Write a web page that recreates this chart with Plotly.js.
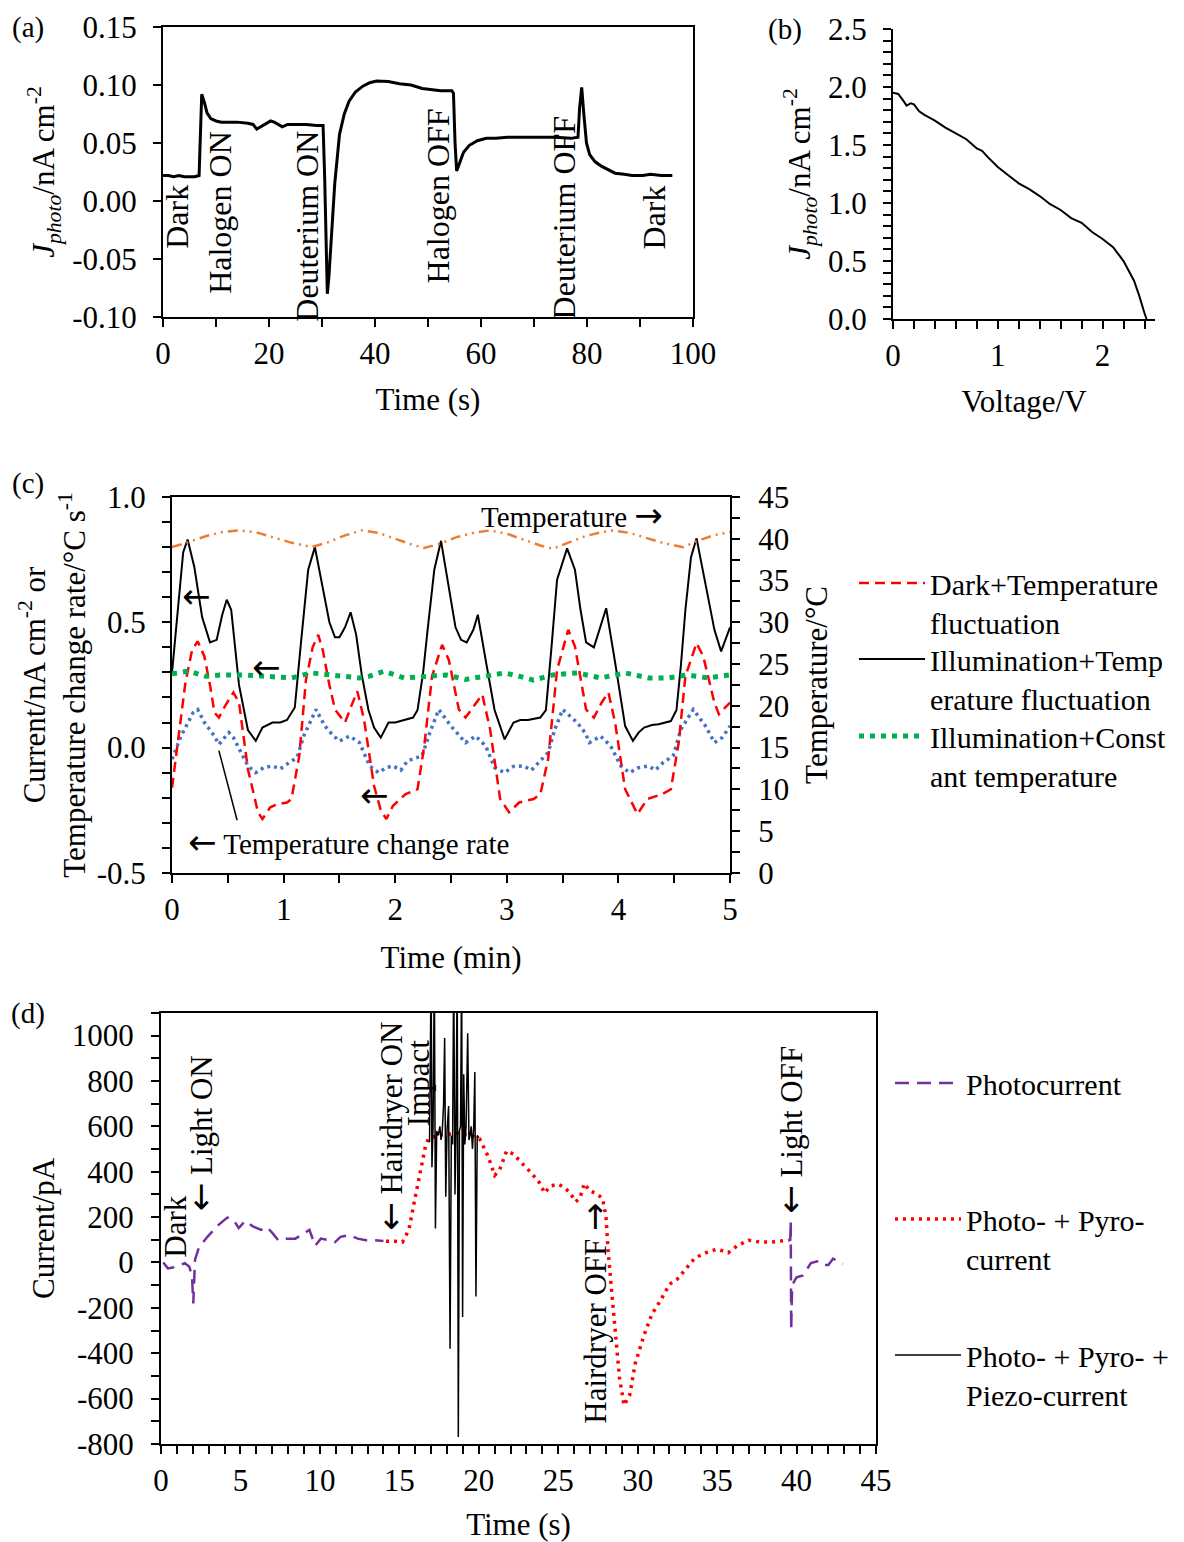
<!DOCTYPE html>
<html><head><meta charset="utf-8">
<script src="https://cdn.plot.ly/plotly-3.0.1.min.js"></script>
<style>body{margin:0;background:#fff}#chart{width:1184px;height:1542px}</style>
</head><body><div id="chart"></div>
<script>
// ---------- Panel (a): photocurrent vs time ----------
const timeA = [0,1,2,3,4,5,6,6.8,7.0,7.3,7.8,8.3,9.0,10,11,12,14,16,17,17.7,18.5,19.5,20.3,21,22,22.5,23.5,25,27,29,30.2,30.5,30.8,31.0,31.3,31.8,32.4,33.3,34.2,35.1,36.3,37.7,39,40.3,42.5,44.6,46.8,48.9,50.6,52.4,54.5,54.8,55.1,55.4,55.9,56.7,57.8,59.3,61,62.8,65,68,71,74,77,78.3,78.6,79.0,79.4,79.9,80.5,81.5,82.7,84,85.3,87,88.5,90.5,92,94,96.1];
const jA = [0.022,0.022,0.021,0.022,0.021,0.021,0.021,0.022,0.045,0.092,0.085,0.076,0.071,0.069,0.068,0.068,0.068,0.067,0.066,0.062,0.064,0.067,0.069,0.068,0.065,0.064,0.066,0.066,0.066,0.065,0.065,0.02,-0.05,-0.080,-0.065,-0.025,0.015,0.0575,0.075,0.086,0.094,0.099,0.102,0.1034,0.103,0.101,0.100,0.097,0.096,0.095,0.095,0.093,0.05,0.026,0.032,0.042,0.048,0.052,0.054,0.054,0.055,0.055,0.055,0.055,0.054,0.055,0.080,0.098,0.075,0.050,0.040,0.034,0.030,0.027,0.024,0.023,0.022,0.022,0.023,0.022,0.022];
const tickValsA = [-0.10,-0.05,0,0.05,0.10,0.15];
const tickTextA = ['-0.10','-0.05','0.00','0.05','0.10','0.15'];
const eventsA = ['Dark','Halogen ON','Deuterium ON','Halogen OFF','Deuterium OFF','Dark'];
const eventTimeA = [2.6,10.6,27.1,51.9,75.6,92.6];
const eventYA = [-0.0138,-0.010,-0.0216,0.004,-0.0144,-0.0144];

// ---------- Panel (b): J-V ----------
const voltB = [0,0.05,0.1,0.13,0.17,0.2,0.25,0.3,0.4,0.5,0.6,0.7,0.8,0.85,0.9,1.0,1.1,1.2,1.3,1.4,1.5,1.6,1.7,1.8,1.9,2.0,2.1,2.2,2.3,2.35,2.4,2.42];
const jB = [1.95,1.94,1.88,1.84,1.86,1.85,1.79,1.76,1.71,1.65,1.60,1.55,1.47,1.45,1.40,1.31,1.24,1.17,1.12,1.06,0.99,0.94,0.87,0.83,0.75,0.69,0.62,0.50,0.33,0.20,0.05,0.0];

// ---------- Panel (c): temperature fluctuation ----------
const timeRed = [0,0.06,0.12,0.18,0.23,0.29,0.34,0.38,0.42,0.48,0.55,0.6,0.68,0.77,0.81,0.88,0.95,1.03,1.07,1.14,1.2,1.26,1.31,1.35,1.41,1.46,1.55,1.61,1.66,1.72,1.81,1.87,1.92,1.98,2.09,2.2,2.26,2.33,2.42,2.48,2.57,2.63,2.71,2.78,2.85,2.94,3.02,3.11,3.24,3.3,3.37,3.45,3.55,3.61,3.71,3.78,3.85,3.91,3.97,4.06,4.17,4.26,4.39,4.47,4.54,4.6,4.70,4.76,4.86,4.9,5.0];
const darkTemp = [-0.16,0.05,0.26,0.39,0.424,0.364,0.25,0.14,0.12,0.17,0.22,0.18,-0.086,-0.258,-0.285,-0.238,-0.225,-0.219,-0.205,-0.033,0.27,0.40,0.45,0.39,0.25,0.152,0.10,0.17,0.225,0.113,-0.152,-0.25,-0.285,-0.232,-0.186,-0.166,0.007,0.285,0.41,0.35,0.152,0.12,0.17,0.212,0.073,-0.205,-0.258,-0.219,-0.205,-0.186,-0.046,0.31,0.47,0.404,0.152,0.12,0.18,0.22,0.10,-0.166,-0.265,-0.205,-0.186,-0.166,0.02,0.285,0.417,0.364,0.179,0.133,0.18];
const timeBlack = [0,0.05,0.1,0.14,0.2,0.27,0.34,0.4,0.45,0.49,0.53,0.6,0.68,0.75,0.81,0.9,0.97,1.03,1.1,1.16,1.22,1.28,1.35,1.41,1.46,1.5,1.55,1.6,1.65,1.7,1.76,1.81,1.87,1.94,2.0,2.07,2.16,2.2,2.25,2.29,2.35,2.41,2.48,2.54,2.59,2.64,2.7,2.74,2.81,2.89,2.98,3.06,3.12,3.19,3.3,3.35,3.4,3.45,3.54,3.61,3.66,3.71,3.78,3.84,3.89,3.97,4.06,4.13,4.18,4.23,4.3,4.36,4.47,4.52,4.56,4.6,4.65,4.70,4.77,4.86,4.92,5.0];
const illumTemp = [0.30,0.55,0.78,0.83,0.72,0.52,0.42,0.43,0.53,0.59,0.55,0.25,0.07,0.027,0.08,0.10,0.10,0.11,0.16,0.44,0.71,0.80,0.64,0.50,0.44,0.44,0.48,0.54,0.45,0.29,0.15,0.08,0.04,0.10,0.10,0.11,0.12,0.15,0.30,0.47,0.71,0.825,0.64,0.48,0.43,0.42,0.47,0.53,0.35,0.15,0.033,0.10,0.11,0.11,0.12,0.15,0.40,0.67,0.795,0.71,0.55,0.42,0.40,0.48,0.556,0.34,0.086,0.027,0.06,0.08,0.09,0.093,0.106,0.15,0.33,0.55,0.76,0.835,0.67,0.47,0.384,0.48];
const timeConst = [0,0.15,0.3,0.45,0.65,0.85,1.07,1.25,1.5,1.68,1.77,1.9,2.08,2.29,2.46,2.63,2.81,2.98,3.11,3.24,3.41,3.63,3.84,4.06,4.27,4.45,4.62,4.8,5.0];
const illumConst = [0.295,0.305,0.285,0.29,0.29,0.285,0.278,0.298,0.285,0.278,0.285,0.305,0.278,0.285,0.29,0.272,0.285,0.298,0.285,0.269,0.29,0.298,0.278,0.298,0.278,0.278,0.29,0.278,0.29];
const timeRate = [0,0.08,0.19,0.23,0.29,0.38,0.42,0.51,0.55,0.62,0.68,0.75,0.82,0.9,0.97,1.03,1.12,1.18,1.29,1.37,1.44,1.5,1.59,1.68,1.77,1.85,1.92,1.98,2.05,2.11,2.24,2.31,2.39,2.5,2.57,2.63,2.72,2.81,2.89,2.98,3.06,3.15,3.22,3.28,3.37,3.43,3.5,3.63,3.7,3.74,3.84,3.93,4.02,4.1,4.18,4.27,4.33,4.4,4.49,4.56,4.67,4.78,4.86,4.93,5.0];
const tempRate = [-0.046,0.046,0.14,0.152,0.10,0.046,0.013,0.06,0.04,-0.02,-0.073,-0.10,-0.08,-0.073,-0.085,-0.066,-0.04,0.046,0.152,0.086,0.05,0.026,0.046,0.02,-0.073,-0.10,-0.08,-0.073,-0.09,-0.053,-0.033,0.06,0.152,0.086,0.05,0.02,0.046,0.007,-0.08,-0.10,-0.075,-0.073,-0.09,-0.06,-0.02,0.073,0.152,0.10,0.06,0.02,0.046,0.007,-0.073,-0.10,-0.08,-0.073,-0.09,-0.06,-0.033,0.073,0.152,0.086,0.02,0.04,0.086];
const timeTemp = [0,0.15,0.3,0.45,0.6,0.75,0.9,1.05,1.25,1.4,1.55,1.7,1.85,2.0,2.15,2.26,2.4,2.55,2.7,2.85,3.0,3.15,3.3,3.41,3.55,3.7,3.85,3.95,4.1,4.25,4.4,4.58,4.7,4.85,5.0];
const temperature = [39.0,39.6,40.3,40.8,41.0,40.8,40.2,39.6,39.0,39.6,40.4,41.0,40.7,40.0,39.3,38.9,39.4,40.2,40.7,41.0,40.6,39.9,39.2,38.8,39.5,40.3,40.8,41.0,40.7,40.1,39.5,39.0,39.7,40.4,40.8];
const tickValsC = [-0.5,0,0.5,1.0];
const tickTextC = ['-0.5','0.0','0.5','1.0'];
const namesC = ['Dark+Temperature<br>fluctuation','Illumination+Temp<br>erature fluctuation','Illumination+Const<br>ant temperature'];

// ---------- Panel (d): hairdryer experiment ----------
const timePhoto = [0.14,0.43,0.96,1.5,1.78,1.95,2.03,2.1,2.14,2.39,2.92,3.64,4.17,4.53,4.89,5.3,5.78,6.3,6.67,7.03,7.38,7.92,8.45,8.99,9.34,9.7,10.06,10.6,10.95,11.3,11.84,12.38,12.9,13.45,14.0,null,39.5,39.6,39.63,39.66,39.72,40.0,40.4,40.9,41.3,41.6,42.0,42.3,42.9];
const photo = [0,-26,-19,-3,-19,-60,-181,-60,12,67,113,167,198,190,152,183,159,144,156,128,98,105,105,128,144,74,105,98,90,113,121,105,98,98,95,null,98,100,183,-297,-100,-65,-57,-3,5,-11,-11,17,-8];
const timePyro = [14.16,14.7,15.2,15.6,15.94,16.3,16.65,16.85,17.5,18.5,19.5,20.04,20.58,21.0,21.3,21.75,22.2,22.7,23.25,23.8,24.14,24.5,25.0,25.4,25.75,26.1,26.36,26.64,27.0,27.35,27.78,28.0,28.14,28.35,28.6,28.85,29.14,29.5,29.85,30.4,30.9,31.45,32.0,32.5,33.06,33.6,34.3,35.0,35.7,36.27,36.98,37.7,38.4,39.5];
const pyro = [94,94,90,144,268,392,515,548,560,570,560,546,469,384,407,492,477,438,399,353,306,337,345,330,306,268,283,348,314,306,283,206,51,-119,-305,-506,-630,-584,-444,-320,-227,-166,-96,-73,-26,20,43,59,43,74,98,90,90,98];
const timePiezo = [16.9,17.0,17.05,17.12,17.2,17.27,17.35,17.45,17.55,17.62,17.7,17.78,17.85,17.92,18.0,18.1,18.19,18.27,18.35,18.42,18.5,18.56,18.64,18.71,18.78,18.85,18.92,18.98,19.05,19.12,19.2,19.3,19.38,19.45,19.52,19.6,19.68,19.75,19.82,19.9,20.0];
const piezo = [530,1300,420,600,1300,150,580,560,600,540,580,690,990,290,580,690,-380,560,520,1300,300,560,1300,-770,580,600,1300,-240,830,520,600,1010,540,560,600,500,600,840,-150,560,550];
const tickValsD = [-800,-600,-400,-200,0,200,400,600,800,1000];
const tickTextD = ['-800','-600','-400','-200','0','200','400','600','800','1000'];
const AL = '<span style="font-family:DejaVu Sans;font-size:34px">\u2190</span>';
const AR = '<span style="font-family:DejaVu Sans;font-size:34px">\u2192</span>';
const eventsD = ['Dark', AL+' Light ON', AL+' Hairdryer ON', 'Impact', 'Hairdryer OFF '+AR, AL+' Light OFF'];
const eventTimeD = [0.95,2.46,14.44,16.19,27.28,39.59];
const eventYD = [158,570,600,791,-224,585];
const namesD = ['Photocurrent','Photo- + Pyro-<br>current','Photo- + Pyro- +<br>Piezo-current'];

const FONT = 'Liberation Serif, Times New Roman, serif';
const FS = 31;

const traces = [
  {x: timeA, y: jA, xaxis:'x', yaxis:'y', mode:'lines', line:{color:'#000', width:3}, showlegend:false},
  {x: voltB, y: jB, xaxis:'x2', yaxis:'y2', mode:'lines', line:{color:'#000', width:2}, showlegend:false},
  {x: timeTemp, y: temperature, xaxis:'x3', yaxis:'y4', mode:'lines', line:{color:'#ED7D31', width:2.5, dash:'10px,5px,2px,5px,2px,5px'}, showlegend:false},
  {x: timeRate, y: tempRate, xaxis:'x3', yaxis:'y3', mode:'lines', line:{color:'#4472C4', width:3.5, dash:'3px,4px'}, showlegend:false},
  {x: timeRed, y: darkTemp, xaxis:'x3', yaxis:'y3', mode:'lines', name:namesC[0], line:{color:'#FF0000', width:2.5, dash:'10px,6px'}, legend:'legend'},
  {x: timeBlack, y: illumTemp, xaxis:'x3', yaxis:'y3', mode:'lines', name:namesC[1], line:{color:'#000', width:2}, legend:'legend5'},
  {x: timeConst, y: illumConst, xaxis:'x3', yaxis:'y3', mode:'lines', name:namesC[2], line:{color:'#00B050', width:5, dash:'5px,6px'}, legend:'legend6'},
  {x: timePyro, y: pyro, xaxis:'x4', yaxis:'y5', mode:'lines', name:namesD[1], line:{color:'#FF0000', width:3.5, dash:'3px,5px'}, legend:'legend3'},
  {x: timePiezo, y: piezo, xaxis:'x4', yaxis:'y5', mode:'lines', name:namesD[2], line:{color:'#000', width:1.5}, legend:'legend4'},
  {x: timePhoto, y: photo, xaxis:'x4', yaxis:'y5', mode:'lines', name:namesD[0], connectgaps:false, line:{color:'#7030A0', width:2.5, dash:'14px,8px'}, legend:'legend2'}
];

const baseAx = {showline:true, linecolor:'#000', linewidth:2, ticks:'outside', ticklen:8, tickwidth:2, tickcolor:'#000', showgrid:false, zeroline:false, tickfont:{family:FONT,size:FS,color:'#000'}, title:{font:{family:FONT,size:FS,color:'#000'}}};
function ax(o){ return Object.assign({}, JSON.parse(JSON.stringify(baseAx)), o, {title: Object.assign({}, baseAx.title, o.title||{})}); }
const minor = (d,t0)=>({dtick:d, tick0:t0||0, ticks:'outside', ticklen:8, tickwidth:2, tickcolor:'#000', showgrid:false});

const annotations = [];
eventsA.forEach((t,i)=>annotations.push({xref:'x', yref:'y', x:eventTimeA[i], y:eventYA[i], text:t, textangle:-90, showarrow:false, font:{family:FONT,size:32,color:'#000'}}));
eventsD.forEach((t,i)=>annotations.push({xref:'x4', yref:'y5', x:eventTimeD[i], y:eventYD[i], text:t, textangle:-90, showarrow:false, font:{family:FONT,size:31,color:'#000'}}));
[['(a)',28,27],['(b)',785,29],['(c)',28,483],['(d)',28,1013]].forEach(p=>annotations.push({xref:'paper', yref:'paper', x:p[1]/1184, y:1-p[2]/1542, xanchor:'center', yanchor:'middle', text:p[0], showarrow:false, font:{family:FONT,size:29,color:'#000'}}));
const notesC = [['Temperature '+AR,3.58,0.928],[AL,0.22,0.605],[AL,0.85,0.32],[AL,1.81,-0.19],[AL+' Temperature change rate',1.58,-0.375]];
notesC.forEach(n=>annotations.push({xref:'x3', yref:'y3', x:n[1], y:n[2], text:n[0], showarrow:false, font:{family:FONT,size:29,color:'#000'}}));

const legBase = {xanchor:'left', yanchor:'top', bgcolor:'rgba(0,0,0,0)', font:{family:FONT,size:30,color:'#000'}, valign:'top', itemwidth:66, tracegroupgap:0, borderwidth:0};
const leg = (xp, yp)=>Object.assign({}, legBase, {x:xp/1184, y:1-yp/1542});

const layout = {
  width:1184, height:1542, margin:{l:0,r:0,t:0,b:0}, paper_bgcolor:'#fff', plot_bgcolor:'rgba(0,0,0,0)',
  font:{family:FONT, size:FS, color:'#000'},
  xaxis: ax({domain:[0.1377,0.5853], range:[0,100], anchor:'y', dtick:20, tick0:0, minor:minor(10), mirror:true, title:{text:'Time (s)', standoff:18}}),
  yaxis: ax({domain:[0.7944,0.9825], range:[-0.1,0.15], anchor:'x', tickmode:'array', tickvals:tickValsA, ticktext:tickTextA, ticklabelstandoff:10, mirror:true, title:{text:'<i>J</i><sub><i>photo</i></sub>/nA cm<sup>-2</sup>', standoff:8}}),
  xaxis2: ax({domain:[0.7542,0.9755], range:[0,2.5], anchor:'y2', dtick:1, tick0:0, minor:minor(0.2), title:{text:'Voltage/V', standoff:18}}),
  yaxis2: ax({domain:[0.7931,0.9812], range:[0,2.5], anchor:'x2', dtick:0.5, tick0:0, tickformat:'.1f', ticklabelstandoff:10, minor:minor(0.1), title:{text:'<i>J</i><sub><i>photo</i></sub>/nA cm<sup>-2</sup>', standoff:8}}),
  xaxis3: ax({domain:[0.1453,0.6166], range:[0,5], anchor:'y3', dtick:1, tick0:0, minor:minor(0.5), mirror:true, title:{text:'Time (min)', standoff:20}}),
  yaxis3: ax({domain:[0.4339,0.6777], range:[-0.5,1.0], anchor:'x3', tickmode:'array', tickvals:tickValsC, ticktext:tickTextC, ticklabelstandoff:10, minor:minor(0.1), title:{text:'Current/nA cm<sup>-2</sup> or<br>Temperature change rate/°C s<sup>-1</sup>', standoff:2}}),
  yaxis4: ax({overlaying:'y3', side:'right', anchor:'x3', range:[0,45], dtick:5, tick0:0, ticklabelstandoff:12, minor:minor(2.5), title:{text:'Temperature/°C', standoff:17}}),
  xaxis4: ax({domain:[0.136,0.7399], range:[0,45], anchor:'y5', dtick:5, tick0:0, minor:minor(1), mirror:true, title:{text:'Time (s)', standoff:20}}),
  yaxis5: ax({domain:[0.0636,0.3431], range:[-800,1100], anchor:'x4', tickmode:'array', tickvals:tickValsD, ticktext:tickTextD, ticklabelstandoff:11, minor:minor(100), mirror:true, title:{text:'Current/pA', standoff:8}}),
  legend: leg(854, 557),
  legend5: leg(854, 633),
  legend6: leg(854, 710),
  legend2: leg(890, 1057),
  legend3: leg(890, 1193),
  legend4: leg(890, 1329),
  annotations: annotations,
  shapes: [{type:'line', xref:'x3', yref:'y3', x0:0.42, y0:-0.012, x1:0.583, y1:-0.29, line:{color:'#000', width:1.5}}]
};

Plotly.newPlot('chart', traces, layout, {displayModeBar:false, staticPlot:true});
</script></body></html>
